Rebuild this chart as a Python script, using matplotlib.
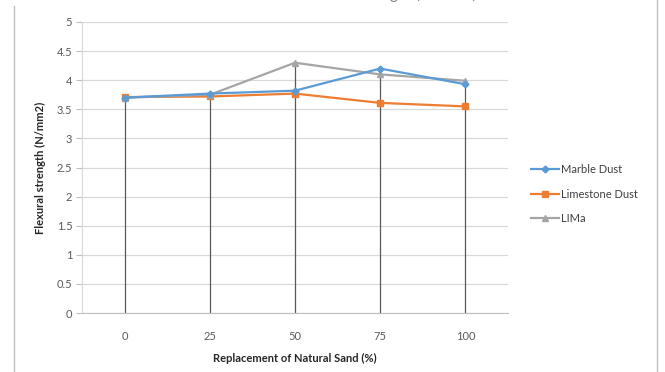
import matplotlib.pyplot as plt
import numpy as np

# flexural strength vs. sand replacement
replacement = ["0", "25", "50", "75", "100"]
marble_dust = [3.70, 3.77, 3.82, 4.20, 3.93]
limestone_dust = [3.71, 3.72, 3.77, 3.61, 3.55]
lima = [3.70, 3.75, 4.30, 4.10, 3.99]

plt.rcParams["font.family"] = ["Lato", "DejaVu Sans"]

fig = plt.figure(figsize=(6.65, 3.72), dpi=100)
ax = fig.add_axes([82 / 665, 1 - 313 / 372, 426 / 665, 291 / 372])

x = np.arange(len(replacement))

# drop lines up to the highest series at each point
tops = np.max([marble_dust, limestone_dust, lima], axis=0)
ax.vlines(x, 0, tops, color="#595959", lw=0.9, zorder=2)

ax.plot(x, marble_dust, color="#5B9BD5", lw=1.6, marker="D", ms=3.5,
        label="Marble Dust", zorder=4)
ax.plot(x, limestone_dust, color="#ED7D31", lw=1.6, marker="s", ms=4.5,
        label="Limestone Dust", zorder=3)
ax.plot(x, lima, color="#A5A5A5", lw=1.6, marker="^", ms=4.5,
        label="LIMa", zorder=3)

ax.set_xlim(-0.5, len(replacement) - 0.5)
ax.set_ylim(0, 5)
ax.set_xticks(x)
ax.set_xticklabels(replacement)
ax.set_yticks(np.arange(0, 5.01, 0.5))
ax.set_yticklabels(["0", "0.5", "1", "1.5", "2", "2.5", "3", "3.5", "4", "4.5", "5"])

ax.grid(axis="y", color="#D9D9D9", lw=0.9)
ax.set_axisbelow(True)
for side in ["top", "right"]:
    ax.spines[side].set_visible(False)
ax.spines["left"].set_color("#D9D9D9")
ax.spines["bottom"].set_color("#BFBFBF")
ax.tick_params(axis="y", length=4, color="#BFBFBF", labelsize=8,
               labelcolor="#595959", pad=3)
ax.tick_params(axis="x", length=0, labelsize=8, labelcolor="#595959", pad=13)

ax.set_xlabel("Replacement of Natural Sand (%)", fontsize=8, fontweight="bold",
              color="#262626", labelpad=8)
ax.set_ylabel("Flexural strength (N/mm2)", fontsize=8, fontweight="bold",
              color="#262626", labelpad=8)

fig.legend(loc="center left", bbox_to_anchor=(521 / 665, 1 - 194 / 372),
           frameon=False, fontsize=8, handlelength=2.5, labelspacing=1.2,
           handletextpad=0.2, labelcolor="#404040")

# chart title, sitting above the top edge
fig.text(345 / 665, 1 + 1 / 372, "Variation of Flexural Strength (N/mm2)",
         ha="center", va="baseline", fontsize=11, color="#7F7F7F")

# chart area border
fig.add_artist(plt.Line2D([14 / 665, 14 / 665], [0, 1 - 6 / 372],
                          transform=fig.transFigure, color="#BFBFBF", lw=1))
fig.add_artist(plt.Line2D([657 / 665, 657 / 665], [0, 1],
                          transform=fig.transFigure, color="#BFBFBF", lw=1))

fig.savefig("out.png", dpi=100)
